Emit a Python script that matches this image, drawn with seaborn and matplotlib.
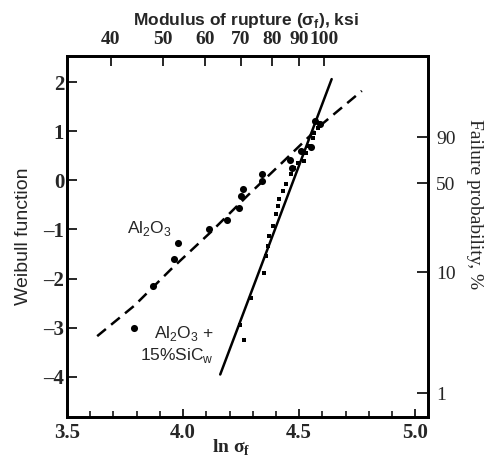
import numpy as np
import seaborn as sns
import matplotlib.pyplot as plt
from matplotlib.ticker import MultipleLocator

# Al2O3 (filled circles)
al_x = [3.79, 3.87, 3.96, 3.98, 4.11, 4.19, 4.24, 4.25, 4.26, 4.34, 4.34,
        4.46, 4.47, 4.51, 4.55, 4.57, 4.59]
al_y = [-3.0, -2.15, -1.6, -1.28, -1.0, -0.8, -0.56, -0.32, -0.17, 0.12, -0.02,
        0.42, 0.25, 0.6, 0.68, 1.2, 1.15]

# Al2O3 + 15% SiCw (small squares)
sic_x = [4.262, 4.245, 4.292, 4.348, 4.357, 4.366, 4.370, 4.387, 4.400, 4.409,
         4.413, 4.431, 4.444, 4.465, 4.478, 4.496, 4.522, 4.530, 4.543, 4.561,
         4.565, 4.582, 4.587]
sic_y = [-3.24, -2.94, -2.39, -1.88, -1.54, -1.33, -1.13, -0.93, -0.68, -0.52,
         -0.38, -0.22, -0.07, 0.13, 0.25, 0.35, 0.39, 0.56, 0.70, 0.86,
         0.96, 1.07, 1.17]

# dashed curve through the Al2O3 data
al_curve_x = [3.63, 3.79, 3.95, 4.12, 4.28, 4.44, 4.60, 4.77]
al_curve_y = [-3.17, -2.55, -1.80, -1.05, -0.30, 0.42, 1.15, 1.82]

# straight line through the composite data
sic_line_x = [4.16, 4.64]
sic_line_y = [-3.95, 2.06]

bottom_ticks = [3.5, 4.0, 4.5, 5.0]
weibull_ticks = [2, 1, 0, -1, -2, -3, -4]
ksi_ticks = [40, 50, 60, 70, 80, 90, 100]
prob_labels = ['90', '50', '10', '1']
prob_pos = [0.88, -0.06, -1.87, -4.33]

sns.set_style('ticks')
plt.rcParams['font.family'] = ['Liberation Serif', 'DejaVu Serif']
plt.rcParams['axes.linewidth'] = 1.8
plt.rcParams['axes.edgecolor'] = 'black'

fig = plt.figure(figsize=(4.84, 4.61), dpi=100)
ax = fig.add_axes([67 / 484, 1 - 417 / 461, 361 / 484, 361 / 461])

sns.lineplot(x=al_curve_x, y=al_curve_y, ax=ax, color='black', lw=1.8,
             linestyle=(0, (4.5, 2.7)))
sns.lineplot(x=sic_line_x, y=sic_line_y, ax=ax, color='black', lw=1.8)
sns.scatterplot(x=al_x, y=al_y, ax=ax, marker='o', s=26, color='black',
                edgecolor='black', linewidth=0, zorder=3)
sns.scatterplot(x=sic_x, y=sic_y, ax=ax, marker='s', s=12, color='black',
                edgecolor='black', linewidth=0, zorder=3)

ax.set_xlim(3.5, 5.055)
ax.set_ylim(-4.815, 2.53)

ax.set_xticks(bottom_ticks)
ax.set_xticklabels([f'{v:.1f}' for v in bottom_ticks], fontweight='bold')
ax.xaxis.set_minor_locator(MultipleLocator(0.1))
ax.tick_params(axis='x', which='major', direction='in', length=6, width=1.4,
               pad=4, labelsize=15)
ax.tick_params(axis='x', which='minor', direction='in', length=4, width=1.3)

ax.set_yticks(weibull_ticks)
ax.set_yticklabels([str(v).replace('-', '\u2013') for v in weibull_ticks],
                   fontweight='bold')
ax.tick_params(axis='y', direction='in', length=7, width=1.4, pad=2, labelsize=15)

ax.set_xlabel('ln σ$_\\mathregular{f}$', fontsize=14, fontweight='bold')
ax.xaxis.set_label_coords(0.455, -0.058)
ax.set_ylabel('Weibull function', fontfamily='Liberation Sans', fontsize=14)
ax.yaxis.set_label_coords(-0.097, 0.5)

# top axis: modulus of rupture in ksi
top = ax.twiny()
top.set_xlim(ax.get_xlim())
top.set_xticks(np.log(ksi_ticks))
top.set_xticklabels([str(v) for v in ksi_ticks], fontweight='bold')
top.tick_params(axis='x', direction='in', length=7, width=1.4, pad=6, labelsize=14)
top.set_xlabel('Modulus of rupture (σ$_\\mathregular{f}$), ksi',
               fontfamily='Liberation Sans', fontweight='bold', fontsize=12.5)
top.xaxis.set_label_coords(0.497, 1.085)

# right axis: failure probability
right = ax.twinx()
right.set_ylim(ax.get_ylim())
right.set_yticks(prob_pos)
right.set_yticklabels(prob_labels)
right.tick_params(axis='y', direction='in', length=8, width=1.4, pad=6, labelsize=14)
right.set_ylabel('Failure probability, %', fontsize=14, rotation=270, va='bottom')
right.yaxis.set_label_coords(1.105, 0.59)

for a in (ax, top, right):
    for sp in a.spines.values():
        sp.set_linewidth(1.8)

sans = 'Liberation Sans'
ax.text(3.853, -0.98, 'Al$_\\mathregular{2}$O$_\\mathregular{3}$',
        fontfamily=sans, fontsize=12.5, ha='center', va='center')
ax.text(4.132, -3.12, 'Al$_\\mathregular{2}$O$_\\mathregular{3}$ +',
        fontfamily=sans, fontsize=12.5, ha='right', va='center')
ax.text(4.132, -3.56, '15%SiC$_\\mathregular{w}$',
        fontfamily=sans, fontsize=12.5, ha='right', va='center')

fig.savefig('out.png', dpi=100)
